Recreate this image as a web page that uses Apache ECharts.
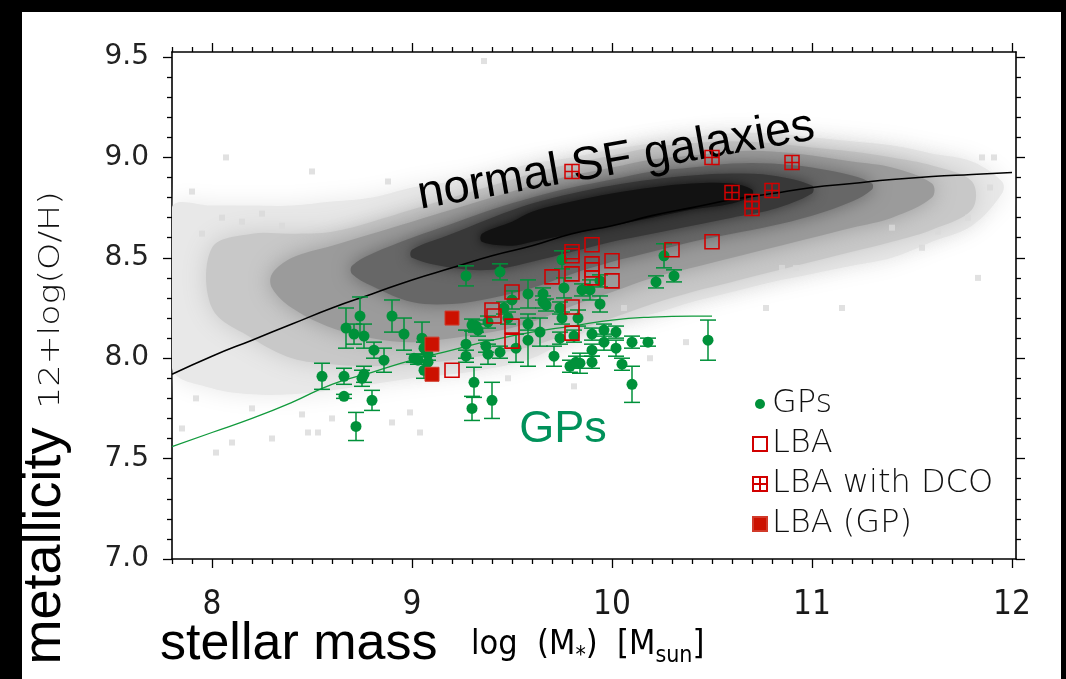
<!DOCTYPE html>
<html><head><meta charset="utf-8">
<script src="https://cdn.jsdelivr.net/npm/echarts@6/dist/echarts.min.js"></script>
<style>
html,body{margin:0;padding:0;background:#000;width:1066px;height:679px;overflow:hidden}
#bg{position:absolute;left:22px;top:12px;width:1039px;height:667px;background:#fff}
#chart{position:absolute;left:0;top:0;width:1066px;height:679px}
</style></head>
<body><div id="bg"></div><div id="chart"></div>
<script>
// ---------- tick labels ----------
const xMajor = [8, 9, 10, 11, 12];
const yMajor = [7.0, 7.5, 8.0, 8.5, 9.0, 9.5];

// ---------- Green Peas (GPs): stellar mass, metallicity, error ----------
const gpMass = [9.27,9.44,8.74,8.67,8.71,8.76,8.90,8.96,8.81,8.86,9.05,9.01,9.03,9.08,9.08,9.06,9.27,9.27,9.32,9.33,9.38,9.37,9.38,9.44,9.46,9.48,9.50,9.52,8.55,8.66,8.76,8.75,8.66,8.80,8.72,9.31,9.30,9.40,9.06,9.30,9.75,10.26,10.22,10.31,9.58,9.655,9.655,9.67,9.76,9.85,9.89,9.94,9.94,9.74,9.75,9.83,9.58,9.64,9.58,9.74,9.81,9.90,9.96,10.02,9.96,10.02,9.90,10.10,10.18,10.48,9.71,9.79,9.84,9.90,9.82,10.05,10.10];
const gpZ = [8.41,8.43,8.21,8.15,8.12,8.11,8.21,8.12,8.04,7.99,8.10,8.00,7.99,8.02,7.98,7.94,8.07,8.01,8.16,8.14,8.18,8.06,8.02,8.03,8.25,8.20,8.29,8.05,7.91,7.91,7.92,7.90,7.81,7.79,7.66,7.88,7.75,7.79,8.05,8.165,8.49,8.51,8.38,8.41,8.32,8.32,8.28,8.265,8.35,8.34,8.34,8.385,8.27,8.25,8.20,8.20,8.17,8.13,8.09,8.10,8.11,8.12,8.14,8.13,8.08,8.05,8.04,8.08,8.08,8.09,8.01,7.96,7.975,7.98,7.98,7.97,7.87];
const gpErr = [0.05,0.04,0.095,0.10,0.05,0.06,0.08,0.08,0.04,0.06,0.08,0.02,0.02,0.03,0.03,0.04,0.07,0.03,0.03,0.03,0.03,0.03,0.05,0.03,0.03,0.03,0.045,0.07,0.065,0.04,0.04,0.04,0.01,0.05,0.07,0.075,0.06,0.09,0.03,0.03,0.045,0.06,0.03,0.03,0.07,0.03,0.03,0.03,0.05,0.03,0.05,0.03,0.04,0.03,0.03,0.04,0.03,0.07,0.13,0.03,0.03,0.03,0.03,0.03,0.04,0.04,0.03,0.03,0.02,0.10,0.05,0.03,0.05,0.03,0.03,0.03,0.09];

// ---------- LBAs ----------
const lbaMass = [9.20,9.40,9.41,9.50,9.50,9.50,9.80,9.80,9.90,9.70,9.80,9.90,9.90,9.90,10.00,10.00,9.80,9.80,10.30,10.50];
const lbaZ    = [7.94,8.24,8.21,8.33,8.16,8.085,8.53,8.51,8.565,8.405,8.42,8.47,8.44,8.40,8.485,8.385,8.255,8.125,8.54,8.58];
const dcoMass = [9.80,10.50,10.90,10.60,10.80,10.70,10.70];
const dcoZ    = [8.93,9.00,8.975,8.825,8.835,8.78,8.745];
const lgpMass = [9.20,9.10,9.10];
const lgpZ    = [8.20,8.07,7.92];

// ---------- relations ----------
const mzrMass = [7.8,8.0,8.2,8.4,8.6,8.8,9.0,9.2,9.4,9.6,9.8,10.0,10.2,10.4,10.6,10.8,11.0,11.2,11.4,11.6,11.8,12.0];
const mzrZ    = [7.92,8.01,8.09,8.17,8.25,8.32,8.39,8.45,8.51,8.56,8.62,8.66,8.71,8.75,8.79,8.82,8.85,8.87,8.89,8.905,8.915,8.925];
const gpFitMass = [7.8,8.0,8.2,8.4,8.6,8.8,9.0,9.2,9.4,9.6,9.8,10.0,10.2,10.4,10.5];
const gpFitZ    = [7.56,7.63,7.70,7.78,7.87,7.93,7.99,8.04,8.09,8.13,8.16,8.19,8.205,8.21,8.21];

// ---------- SDSS star-forming galaxy cloud: density contours (mass, low, high) ----------
const c1x  = [7.8,8.0,8.2,8.4,8.6,8.8,9.0,9.2,9.4,9.6,9.8,10.0,10.2,10.4,10.6,10.8,11.0,11.2,11.4,11.6,11.8,11.95];
const c1lo = [7.95,7.85,7.82,7.82,7.84,7.87,7.90,7.92,7.95,8.00,8.10,8.18,8.22,8.28,8.33,8.38,8.42,8.46,8.50,8.58,8.66,8.82];
const c1hi = [8.75,8.76,8.76,8.76,8.78,8.80,8.85,8.88,8.92,8.97,9.00,9.04,9.07,9.10,9.12,9.12,9.10,9.08,9.06,9.02,8.98,8.88];
const c2x  = [8.0,8.2,8.4,8.6,8.8,9.0,9.2,9.4,9.6,9.8,10.0,10.2,10.4,10.6,10.8,11.0,11.2,11.4,11.6,11.8];
const c2lo = [8.25,8.10,8.00,7.97,7.96,7.97,7.99,8.02,8.06,8.13,8.20,8.27,8.33,8.38,8.43,8.48,8.53,8.58,8.64,8.74];
const c2hi = [8.55,8.62,8.62,8.63,8.68,8.74,8.80,8.86,8.92,8.97,9.01,9.05,9.07,9.08,9.07,9.05,9.03,9.00,8.96,8.88];
const c3x  = [8.3,8.4,8.6,8.8,9.0,9.2,9.4,9.6,9.8,10.0,10.2,10.4,10.6,10.8,11.0,11.2,11.4,11.6];
const c3lo = [8.35,8.25,8.15,8.10,8.08,8.10,8.13,8.18,8.26,8.33,8.40,8.45,8.50,8.55,8.60,8.65,8.70,8.80];
const c3hi = [8.42,8.50,8.56,8.62,8.68,8.74,8.80,8.86,8.91,8.95,8.99,9.01,9.03,9.03,9.01,8.98,8.95,8.87];
const c4x  = [8.7,8.8,9.0,9.2,9.4,9.6,9.8,10.0,10.2,10.4,10.6,10.8,11.0,11.2,11.3];
const c4lo = [8.42,8.36,8.28,8.27,8.30,8.35,8.42,8.48,8.53,8.58,8.62,8.66,8.71,8.78,8.84];
const c4hi = [8.46,8.52,8.60,8.67,8.74,8.80,8.85,8.89,8.93,8.95,8.97,8.97,8.95,8.91,8.87];
const c5x  = [9.0,9.2,9.4,9.6,9.8,10.0,10.2,10.4,10.6,10.8,11.0];
const c5lo = [8.50,8.45,8.44,8.48,8.53,8.58,8.62,8.66,8.70,8.74,8.82];
const c5hi = [8.54,8.62,8.70,8.77,8.82,8.86,8.89,8.91,8.92,8.91,8.86];
const c6x  = [9.35,9.5,9.6,9.8,10.0,10.2,10.4,10.6,10.7];
const c6lo = [8.58,8.56,8.58,8.62,8.66,8.70,8.74,8.77,8.81];
const c6hi = [8.62,8.68,8.73,8.78,8.82,8.85,8.87,8.87,8.84];
// isolated faint galaxies
const speckX = [9.36,8.07,8.50,8.88,7.90,7.95,8.05,8.15,8.25,8.35,7.85,8.02,8.10,8.30,8.48,8.53,8.90,9.04,8.99,9.48,11.85,11.91,11.83,11.55,11.63,11.78,11.89,10.77,11.15,10.85,10.92,11.40,10.37,10.19,9.81,10.06,8.2,8.45,7.92,8.6];
const speckY = [9.48,9.00,8.93,8.88,8.83,8.62,8.70,8.68,8.72,8.66,7.65,7.53,7.58,7.60,7.63,7.63,7.68,7.63,7.73,7.90,9.00,9.00,8.40,8.55,8.63,8.70,8.85,8.25,8.25,8.45,8.45,8.65,8.08,8.00,7.86,8.25,7.75,7.72,7.80,7.70];

// ---------- styling ----------
const GREEN = '#00913a';
const RED = '#d20000';
const X_MIN = 7.8, X_MAX = 12.02, Y_MIN = 7.0, Y_MAX = 9.525;
const narrowFont = "'Liberation Sans Narrow','DejaVu Sans Condensed','Liberation Sans',sans-serif";
const hersheyFont = "'DejaVu Sans',sans-serif";

function minorList(a, b, step, majors) {
  const out = [];
  const n = Math.round((b - a) / step);
  for (let i = 0; i <= n; i++) {
    const v = +(a + i * step).toFixed(2);
    if (!majors.some(m => Math.abs(m - v) < 1e-6)) out.push(v);
  }
  return out;
}
const xMinor = minorList(7.8, 12.0, 0.1, xMajor);
const yMinor = minorList(7.0, 9.5, 0.1, yMajor);

function xAxisDef(position, ticks, len, showLine, showLabel) {
  return {
    type: 'value', gridIndex: 0, position, min: X_MIN, max: X_MAX,
    axisLine: { show: showLine, onZero: false, lineStyle: { color: '#000', width: 1.6 } },
    axisTick: { show: true, inside: false, length: len, customValues: ticks, lineStyle: { color: '#000', width: 1.3 } },
    axisLabel: { show: showLabel, customValues: xMajor, margin: 30, fontSize: 33, fontFamily: narrowFont, color: '#1a1a1a', formatter: v => String(v) },
    splitLine: { show: false }
  };
}
function yAxisDef(position, ticks, len, showLine, showLabel) {
  return {
    type: 'value', gridIndex: 0, position, min: Y_MIN, max: Y_MAX,
    axisLine: { show: showLine, onZero: false, lineStyle: { color: '#000', width: 1.6 } },
    axisTick: { show: true, inside: false, length: len, customValues: ticks, lineStyle: { color: '#000', width: 1.3 } },
    axisLabel: { show: showLabel, customValues: yMajor, margin: 23, fontSize: 28, fontFamily: hersheyFont, color: '#222', formatter: v => v.toFixed(1) },
    splitLine: { show: false }
  };
}

function band(xs, lo, hi, color, blur) {
  return {
    type: 'custom', xAxisIndex: 0, yAxisIndex: 0, silent: true, z: 1, clip: true,
    data: xs.map((x, i) => [x, lo[i], hi[i]]),
    encode: { x: 0, y: [1, 2] },
    renderItem(params, api) {
      if (params.dataIndex !== 0) return null;
      const up = xs.map((x, i) => api.coord([x, hi[i]]));
      const dn = xs.map((x, i) => api.coord([x, lo[i]])).reverse();
      return {
        type: 'polygon',
        shape: { points: up.concat(dn), smooth: 0.35 },
        style: { fill: color, shadowBlur: blur, shadowColor: color }
      };
    }
  };
}

const chart = echarts.init(document.getElementById('chart'), null, { renderer: 'canvas' });

const option = {
  animation: false,
  backgroundColor: 'transparent',
  grid: { left: 172, top: 52, right: 50, bottom: 120, containLabel: false },
  xAxis: [
    xAxisDef('bottom', xMajor, 9, true, true),
    xAxisDef('bottom', xMinor, 5, false, false),
    xAxisDef('top', xMajor, 9, true, false),
    xAxisDef('top', xMinor, 5, false, false)
  ],
  yAxis: [
    yAxisDef('left', yMajor, 9, true, true),
    yAxisDef('left', yMinor, 5, false, false),
    yAxisDef('right', yMajor, 9, true, false),
    yAxisDef('right', yMinor, 5, false, false)
  ],
  legend: {
    data: [
      { name: 'GPs', icon: 'path://M0,0M14,14M12,7A5,5,0,1,1,2,7A5,5,0,1,1,12,7Z' },
      'LBA', 'LBA with DCO', 'LBA (GP)'
    ],
    orient: 'vertical', left: 752, top: 384, padding: 0,
    itemWidth: 14, itemHeight: 14, itemGap: 0,
    textStyle: { fontSize: 32, fontFamily: hersheyFont, fontWeight: 200, color: '#111', lineHeight: 40 }
  },
  graphic: [
    { type: 'text', x: 616, y: 161, rotation: 10 * Math.PI / 180, z: 4, silent: true,
      style: { text: 'normal SF galaxies', font: '47px "Liberation Sans", Arial, sans-serif', fill: '#000', align: 'center', verticalAlign: 'middle' } },
    { type: 'text', x: 563, y: 430, z: 4, silent: true,
      style: { text: 'GPs', font: '45px "Liberation Sans", Arial, sans-serif', fill: '#00915a', align: 'center', verticalAlign: 'middle' } },
    { type: 'text', x: 160, y: 645, z: 4, silent: true,
      style: { text: 'stellar mass', font: '52px "Liberation Sans", Arial, sans-serif', fill: '#000', align: 'left', verticalAlign: 'middle' } },
    { type: 'text', x: 471, y: 628, z: 4, silent: true,
      style: {
        text: '{m|log  (M}{s|*}{m|)  [M}{s|sun}{m|]}',
        align: 'left', verticalAlign: 'top',
        rich: {
          m: { fontSize: 34, fontFamily: narrowFont, fill: '#000', lineHeight: 40, verticalAlign: 'top' },
          s: { fontSize: 23, fontFamily: narrowFont, fill: '#000', lineHeight: 23, verticalAlign: 'bottom' }
        }
      } },
    { type: 'text', x: 45, y: 546, rotation: Math.PI / 2, z: 4, silent: true,
      style: { text: 'metallicity', font: '54px "Liberation Sans", Arial, sans-serif', fill: '#000', align: 'center', verticalAlign: 'middle' } },
    { type: 'text', x: 51, y: 300, rotation: Math.PI / 2, scaleX: 1.2, z: 4, silent: true,
      style: { text: '12+log(O/H)', font: '200 29px "DejaVu Sans", sans-serif', fill: '#111', align: 'center', verticalAlign: 'middle' } }
  ],
  series: [
    band(c1x, c1lo, c1hi, '#e8e8e8', 24),
    band(c2x, c2lo, c2hi, '#c8c8c8', 24),
    band(c3x, c3lo, c3hi, '#9b9b9b', 22),
    band(c4x, c4lo, c4hi, '#676767', 18),
    band(c5x, c5lo, c5hi, '#383838', 14),
    band(c6x, c6lo, c6hi, '#121212', 10),
    { type: 'scatter', name: 'specks', silent: true, z: 1, symbol: 'rect', symbolSize: 6,
      itemStyle: { color: '#d9d9d9' },
      data: speckX.map((x, i) => [x, speckY[i]]) },
    { type: 'line', name: 'mzr', silent: true, z: 3, smooth: true, symbol: 'none',
      lineStyle: { color: '#000', width: 1.6 },
      data: mzrMass.map((x, i) => [x, mzrZ[i]]) },
    { type: 'line', name: 'gpfit', silent: true, z: 3, smooth: true, symbol: 'none',
      lineStyle: { color: '#119a3c', width: 1.3 },
      data: gpFitMass.map((x, i) => [x, gpFitZ[i]]) },
    { type: 'custom', name: 'GP errors', silent: true, z: 5,
      data: gpMass.map((x, i) => [x, gpZ[i], gpErr[i]]),
      encode: { x: 0, y: 1 },
      renderItem(params, api) {
        const x = api.value(0), y = api.value(1), e = api.value(2);
        const p0 = api.coord([x, y - e]);
        const p1 = api.coord([x, y + e]);
        const cw = 8;
        const st = { stroke: GREEN, lineWidth: 1.5 };
        return { type: 'group', children: [
          { type: 'line', shape: { x1: p0[0], y1: p0[1], x2: p1[0], y2: p1[1] }, style: st },
          { type: 'line', shape: { x1: p0[0] - cw, y1: p0[1], x2: p0[0] + cw, y2: p0[1] }, style: st },
          { type: 'line', shape: { x1: p1[0] - cw, y1: p1[1], x2: p1[0] + cw, y2: p1[1] }, style: st }
        ] };
      } },
    { type: 'scatter', name: 'GPs', z: 6, symbol: 'circle', symbolSize: 11,
      itemStyle: { color: GREEN, opacity: 1 },
      data: gpMass.map((x, i) => [x, gpZ[i]]) },
    { type: 'scatter', name: 'LBA (GP)', z: 7, symbol: 'rect', symbolSize: 14,
      itemStyle: { color: '#cc1100', borderColor: '#d23a2a', borderWidth: 1, opacity: 1 },
      data: lgpMass.map((x, i) => [x, lgpZ[i]]) },
    { type: 'scatter', name: 'LBA', z: 7, symbol: 'rect', symbolSize: 14,
      itemStyle: { color: 'rgba(255,255,255,0)', borderColor: RED, borderWidth: 1.6, opacity: 1 },
      data: lbaMass.map((x, i) => [x, lbaZ[i]]) },
    { type: 'scatter', name: 'LBA with DCO', z: 7,
      symbol: 'path://M0,0H20V20H0Z M10,0V20 M0,10H20', symbolSize: 14,
      itemStyle: { color: 'rgba(255,255,255,0)', borderColor: RED, borderWidth: 1.5, opacity: 1 },
      data: dcoMass.map((x, i) => [x, dcoZ[i]]) }
  ]
};
chart.setOption(option);
</script>
</body></html>
